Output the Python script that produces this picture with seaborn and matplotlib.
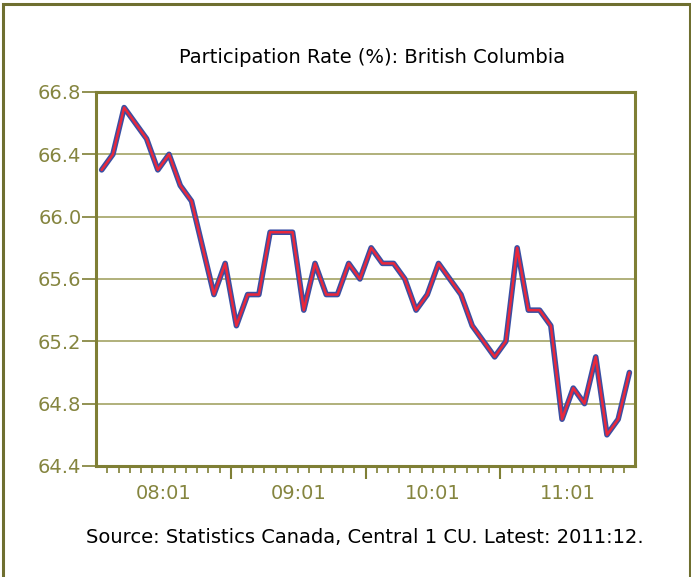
import matplotlib
matplotlib.use("Agg")
import matplotlib.pyplot as plt
import seaborn as sns
import pandas as pd
from matplotlib.patches import Rectangle

# Taxa de participação mensal, 2008:01 a 2011:12
meses = list(range(48))
taxa = [66.3, 66.4, 66.7, 66.6, 66.5, 66.3, 66.4, 66.2, 66.1, 65.8, 65.5, 65.7,
        65.3, 65.5, 65.5, 65.9, 65.9, 65.9, 65.4, 65.7, 65.5, 65.5, 65.7, 65.6,
        65.8, 65.7, 65.7, 65.6, 65.4, 65.5, 65.7, 65.6, 65.5, 65.3, 65.2, 65.1,
        65.2, 65.8, 65.4, 65.4, 65.3, 64.7, 64.9, 64.8, 65.1, 64.6, 64.7, 65.0]
rotulos_x = ['08:01', '09:01', '10:01', '11:01']
pos_rotulos = [5.5, 17.5, 29.5, 41.5]
ticks_y = [64.4, 64.8, 65.2, 65.6, 66.0, 66.4, 66.8]

df = pd.DataFrame({'Mes': meses, 'Taxa': taxa})

sns.set_style('white')
plt.rcParams['font.family'] = ['DejaVu Sans']

oliva = '#7f7f35'
fig = plt.figure(figsize=(6.91, 5.77), dpi=100)
ax = fig.add_axes([0.139, 0.1924, 0.780, 0.6482])

for y in ticks_y[1:-1]:
    ax.axhline(y, color='#a3a365', lw=1.2, zorder=0)

sns.lineplot(data=df, x='Mes', y='Taxa', ax=ax, color='#3a4fa3', lw=4.0, zorder=2)
sns.lineplot(data=df, x='Mes', y='Taxa', ax=ax, color='#e8283c', lw=1.8, zorder=3)

ax.set_xlim(-0.5, 47.5)
ax.set_ylim(64.4, 66.8)
ax.set_yticks(ticks_y)
ax.set_yticklabels([f'{v:.1f}' for v in ticks_y])
ax.set_xticks([i - 0.5 for i in range(1, 48) if i % 12 == 0])
ax.set_xticklabels([])
ax.set_xticks([i - 0.5 for i in range(1, 48) if i % 12 != 0], minor=True)
ax.tick_params(axis='x', which='major', length=9, width=1.5, color=oliva, direction='out', bottom=True)
ax.tick_params(axis='x', which='minor', length=5, width=1.2, color=oliva, direction='out', bottom=True)
ax.tick_params(axis='y', length=10, width=1.2, color=oliva, labelcolor='#85853f',
               labelsize=14, pad=0.5, left=True)
for p, r in zip(pos_rotulos, rotulos_x):
    ax.text(p, -0.048, r, transform=ax.get_xaxis_transform(), ha='center', va='top',
            fontsize=14, color='#85853f')

for s in ax.spines.values():
    s.set_color(oliva)
    s.set_linewidth(2.2)
ax.set_xlabel('')
ax.set_ylabel('')

fig.text(0.538, 0.901, 'Participation Rate (%): British Columbia', ha='center', va='center',
         fontsize=14, color='black')
fig.text(0.528, 0.069, 'Source: Statistics Canada, Central 1 CU. Latest: 2011:12.', ha='center',
         va='center', fontsize=14, color='black')

fig.patches.append(Rectangle((0.005, -0.02), 0.993, 1.013, transform=fig.transFigure,
                             fill=False, edgecolor='#6f6f30', lw=2.2))

fig.savefig('out.png', dpi=100)
